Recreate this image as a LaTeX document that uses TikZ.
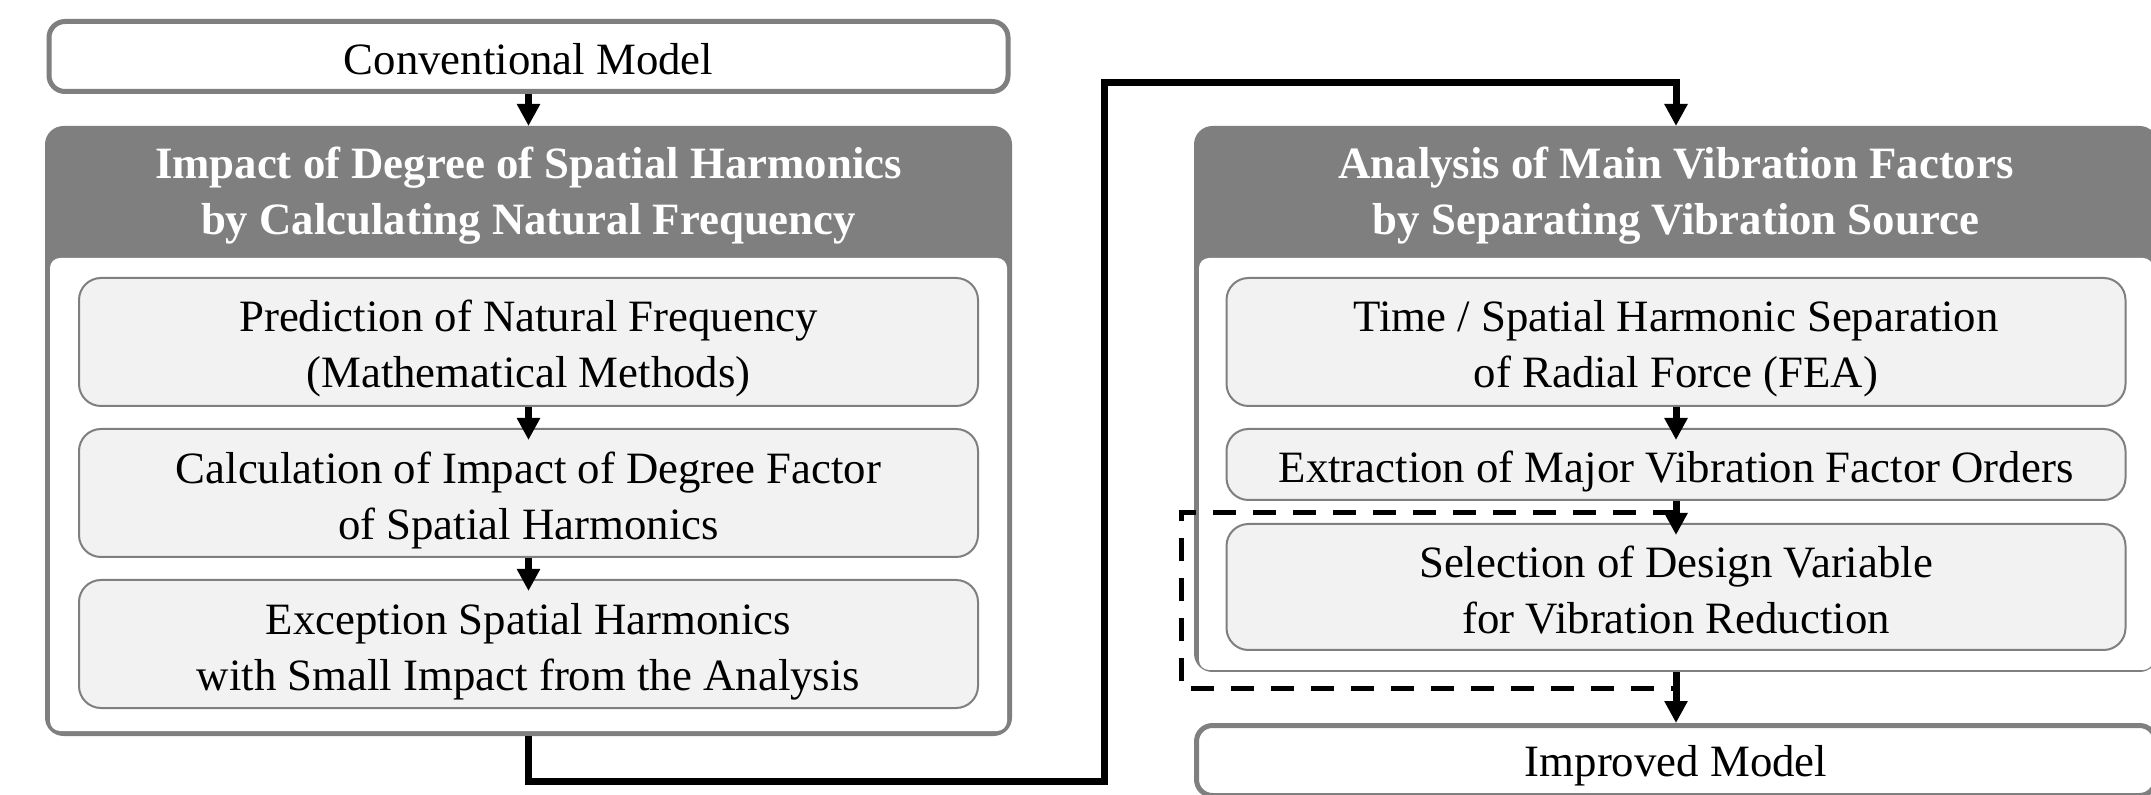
\documentclass[tikz,border=0pt]{standalone}
\usepackage{fontspec}
\setmainfont{Liberation Serif}
\usetikzlibrary{arrows.meta,calc}
\definecolor{bordergray}{HTML}{7F7F7F}
\definecolor{hdrgray}{HTML}{7F7F7F}
\definecolor{innerfill}{HTML}{F2F2F2}
\definecolor{innerdraw}{HTML}{7F7F7F}
\begin{document}
\begin{tikzpicture}[x=0.5pt,y=-0.5pt,
 txt/.style={font=\fontsize{22.4}{28}\selectfont, align=center, inner sep=0pt},
 modelbox/.style={draw=bordergray, line width=2.5pt, fill=white, rounded corners=8pt, minimum width=479.5pt, minimum height=35pt, inner sep=0pt},
 outerbox/.style={draw=bordergray, fill=hdrgray, line width=2.5pt, rounded corners=8pt, inner sep=0pt},
 hdrtext/.style={align=center, text=white, inner sep=0pt, font=\fontsize{22.4}{28}\selectfont\bfseries},
 innerbox/.style={draw=innerdraw, line width=1pt, fill=innerfill, rounded corners=11pt, minimum width=449.5pt, inner sep=0pt},
 flow/.style={line width=3.5pt, -{Triangle[length=11pt,width=11pt]}},
 inflow/.style={flow, shorten >=-6pt},
 feedback/.style={line width=2.5pt, dash pattern=on 11.5pt off 8.5pt}
]
\clip (0,0) rectangle (2151,795);
\fill[white] (0,0) rectangle (2151,795);

% left column
\node[modelbox] (conv) at (528.5,56.5) {};
\node[txt] (convt) at (528.5,59.5) {Conventional Model};
\node[outerbox, minimum width=481pt, minimum height=302.5pt] (L) at (528.5,431) {};
\fill[white, rounded corners=5pt] (50,258) rectangle (1007,731);
\node[hdrtext] (Lh) at (528.5,196) {Impact of Degree of Spatial Harmonics\\by Calculating Natural Frequency};
\node[innerbox, minimum height=64pt] (l1) at (528.5,342) {};
\node[txt] (l1t) at (528.5,349) {Prediction of Natural Frequency\\(Mathematical Methods)};
\node[innerbox, minimum height=64pt] (l2) at (528.5,493) {};
\node[txt] (l2t) at (528.5,500.5) {Calculation of Impact of Degree Factor\\of Spatial Harmonics};
\node[innerbox, minimum height=64pt] (l3) at (528.5,644) {};
\node[txt] (l3t) at (528.5,651.5) {Exception Spatial Harmonics\\with Small Impact from the Analysis};

% right column
\node[outerbox, minimum width=479.5pt, minimum height=270.5pt] (R) at (1676,399) {};
\fill[white, rounded corners=5pt] (1199,258) rectangle (2153,670);
\node[hdrtext] (Rh) at (1676,196) {Analysis of Main Vibration Factors\\by Separating Vibration Source};
\node[innerbox, minimum height=64pt] (r1) at (1676,342) {};
\node[txt] (r1t) at (1676,349) {Time / Spatial Harmonic Separation\\of Radial Force (FEA)};
\node[innerbox, minimum height=35.5pt] (r2) at (1676,464.5) {};
\node[txt] (r2t) at (1676,472) {Extraction of Major Vibration Factor Orders};
\node[innerbox, minimum height=63pt] (r3) at (1676,587) {};
\node[txt] (r3t) at (1676,590) {Selection of Design Variable\\for Vibration Reduction};
\node[modelbox] (imp) at (1676,760.5) {};
\node[txt] (impt) at (1676,765.5) {Improved Model};

% dashed loop
\coordinate (d0) at (1676,513);
\coordinate (d1) at (1181,513);
\coordinate (d2) at (1181,688);
\coordinate (d3) at (1676,688);
\draw[feedback] (d0) -- (d1) -- (d2) -- (d3);

% arrows
\draw[flow] (conv) -- (L);
\draw[inflow] (l1) -- (l2);
\draw[inflow] (l2) -- (l3);
\draw[inflow] (r1) -- (r2);
\draw[inflow] (r2) -- (r3);
\draw[flow] (R) -- (imp);

\coordinate (c1) at (1104,781);
\coordinate (c2) at (1104,83);
\draw[flow] (L.south) |- (c1) -- (c2) -| (R.north);
\end{tikzpicture}
\end{document}
